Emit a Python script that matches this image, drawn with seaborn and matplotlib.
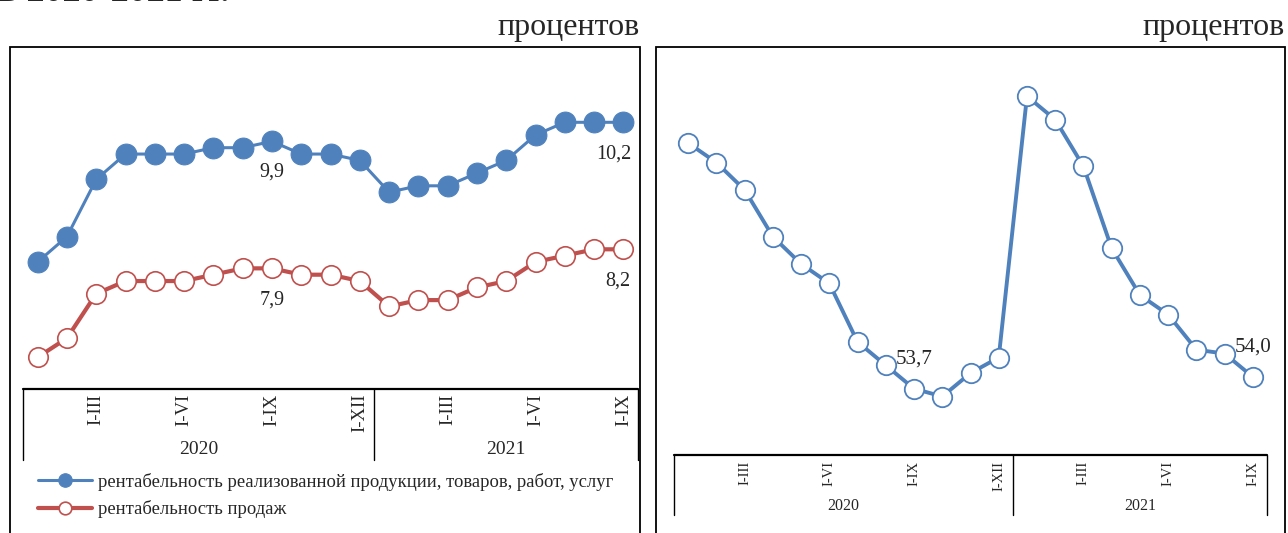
import numpy as np
import pandas as pd
import matplotlib
matplotlib.use('Agg')
import matplotlib.pyplot as plt
import matplotlib.transforms as mtransforms
from matplotlib.patches import Rectangle
from matplotlib.lines import Line2D
import seaborn as sns

# данные
months = ['I', 'I-II', 'I-III', 'I-IV', 'I-V', 'I-VI', 'I-VII', 'I-VIII',
          'I-IX', 'I-X', 'I-XI', 'I-XII']
periods = months + months[:9]
years = ['2020'] * 12 + ['2021'] * 9

rent_products = [8.0, 8.4, 9.3, 9.7, 9.7, 9.7, 9.8, 9.8, 9.9, 9.7, 9.7, 9.6,
                 9.1, 9.2, 9.2, 9.4, 9.6, 10.0, 10.2, 10.2, 10.2]
rent_sales = [6.5, 6.8, 7.5, 7.7, 7.7, 7.7, 7.8, 7.9, 7.9, 7.8, 7.8, 7.7,
              7.3, 7.4, 7.4, 7.6, 7.7, 8.0, 8.1, 8.2, 8.2]
right_series = [60.0, 59.5, 58.8, 57.6, 56.9, 56.4, 54.9, 54.3, 53.7, 53.5, 54.1, 54.5,
                61.2, 60.6, 59.4, 57.3, 56.1, 55.6, 54.7, 54.6, 54.0]

series_names = ['рентабельность реализованной продукции, товаров, работ, услуг',
                'рентабельность продаж']
shown_ticks = ['I-III', 'I-VI', 'I-IX', 'I-XII']
labeled_idx = [8, 20]

df = pd.DataFrame({'pos': np.arange(len(periods)), 'period': periods, 'year': years,
                   'products': rent_products, 'sales': rent_sales, 'right': right_series})

BLUE = '#4F81BD'
RED = '#C0504D'

sns.set_theme(style='white')
plt.rcParams['font.family'] = ['Liberation Serif', 'DejaVu Serif']

W, H = 1288, 533
fig = plt.figure(figsize=(W / 100, H / 100), dpi=100)


def fx(x):
    return x / W


def fy(y):
    return 1 - y / H


def fmt(v):
    return f'{v:.1f}'.replace('.', ',')


def category_axis(ax, y_line, y_bottom, y_tick, y_year, tick_fs, year_fs):
    tr = mtransforms.blended_transform_factory(ax.transData, fig.transFigure)
    n = len(periods)
    fig.add_artist(Line2D([-0.5, n - 0.5], [fy(y_line)] * 2, transform=tr,
                          color='black', lw=1.6))
    n20 = years.count('2020')
    for xv in [-0.5, n20 - 0.5, n - 0.5]:
        fig.add_artist(Line2D([xv, xv], [fy(y_line), fy(y_bottom)], transform=tr,
                              color='black', lw=1.0))
    for i, p in enumerate(periods):
        if p in shown_ticks:
            fig.text(i, fy(y_tick), p, transform=tr, rotation=90, ha='center',
                     va='top', fontsize=tick_fs)
    for yr in ['2020', '2021']:
        idx = [i for i, y in enumerate(years) if y == yr]
        fig.text((idx[0] + idx[-1]) / 2, fy(y_year), yr, transform=tr,
                 ha='center', va='center', fontsize=year_fs)


# левая диаграмма
ax1 = fig.add_axes([fx(23), fy(389), fx(638) - fx(23), fy(71.5) - fy(389)])
sns.lineplot(data=df, x='pos', y='products', ax=ax1, color=BLUE, lw=2.2,
             marker='o', markersize=15, markerfacecolor=BLUE, markeredgecolor=BLUE,
             label=series_names[0])
sns.lineplot(data=df, x='pos', y='sales', ax=ax1, color=RED, lw=3.0,
             marker='o', markersize=14, markerfacecolor='white', markeredgecolor=RED,
             markeredgewidth=1.2, label=series_names[1])
ax1.set_xlim(-0.5, len(periods) - 0.5)
ax1.set_ylim(6, 11)
ax1.axis('off')

offs1 = {8: (0, -22), 20: (-7, -23)}
offs2 = {8: (0, -23), 20: (-4, -23)}
for i in labeled_idx:
    ax1.annotate(fmt(rent_products[i]), (i, rent_products[i]), xytext=offs1[i],
                 textcoords='offset points', ha='center', va='center', fontsize=14.5)
    ax1.annotate(fmt(rent_sales[i]), (i, rent_sales[i]), xytext=offs2[i],
                 textcoords='offset points', ha='center', va='center', fontsize=14.5)

handles, labels = ax1.get_legend_handles_labels()
ax1.legend(handles, labels, loc='upper left', bbox_to_anchor=(fx(38), fy(473)),
           bbox_transform=fig.transFigure, frameon=False, fontsize=13.4,
           handlelength=2.9, handletextpad=0.3, labelspacing=0.5,
           borderpad=0, borderaxespad=0, markerscale=0.65)

category_axis(ax1, 389, 460, 394, 450, 13.5, 14)

# правая диаграмма
ax2 = fig.add_axes([fx(674), fy(455), fx(1267) - fx(674), fy(65) - fy(455)])
sns.lineplot(data=df, x='pos', y='right', ax=ax2, color=BLUE, lw=2.8,
             marker='o', markersize=14, markerfacecolor='white', markeredgecolor=BLUE,
             markeredgewidth=1.3, legend=False)
ax2.set_xlim(-0.5, len(periods) - 0.5)
ax2.set_ylim(52, 62)
ax2.axis('off')
for i in labeled_idx:
    ax2.annotate(fmt(right_series[i]), (i, right_series[i]), xytext=(0, 21.5),
                 textcoords='offset points', ha='center', va='center', fontsize=15)

category_axis(ax2, 455, 515, 461, 506, 10.5, 11.5)

# рамки и подписи
for x0, x1 in [(10, 640), (656, 1285)]:
    fig.add_artist(Rectangle((fx(x0), fy(545)), fx(x1) - fx(x0), fy(47) - fy(545),
                             transform=fig.transFigure, fill=False, ec='black', lw=1.3))
fig.text(fx(640), fy(35), 'процентов', ha='right', va='baseline', fontsize=23)
fig.text(fx(1285), fy(35), 'процентов', ha='right', va='baseline', fontsize=23)
# заголовок над рамками, в оригинале обрезан краем
fig.text(fx(-2), fy(0.8), 'в 2020-2021 гг.', ha='left', va='baseline', fontsize=26,
         fontweight='bold')

fig.savefig('out.png', dpi=100)
